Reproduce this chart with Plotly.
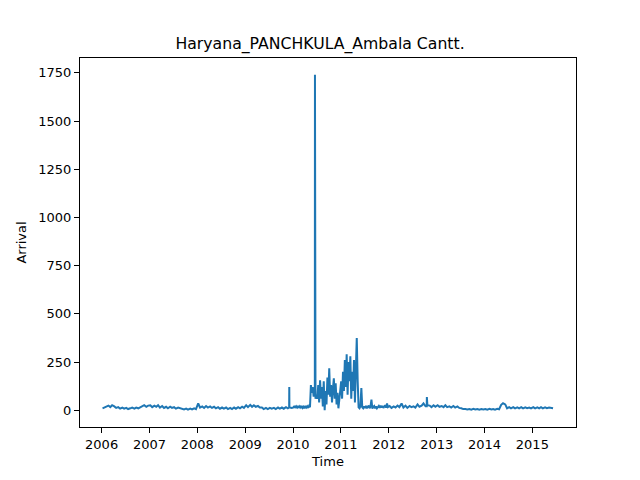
import plotly.graph_objects as go
import pandas as pd

# semimonthly readings (8th and 22nd of each month)
v2006 = [10, 14, 18, 24, 16, 26, 20, 12, 16, 8, 14, 8, 12, 6, 10, 14, 8, 14, 10, 16, 20, 26, 18, 24]
v2007 = [26, 16, 24, 18, 26, 14, 22, 12, 18, 10, 18, 12, 16, 8, 14, 10, 8, 4, 8, 3, 8, 4, 10, 6]
v2008 = [35, 14, 20, 12, 22, 14, 20, 12, 18, 10, 16, 8, 14, 8, 14, 6, 12, 6, 14, 8, 16, 10, 18, 12]
v2009 = [26, 16, 28, 18, 26, 18, 22, 14, 14, 6, 12, 6, 12, 8, 12, 6, 14, 8, 14, 8, 16, 10, 14, 12]
# weekly readings 2010 and 2011
w2010 = [15, 22, 12, 20, 14, 22, 12, 20, 14, 22, 12, 18, 10, 22, 14, 20, 12, 22, 16,
         130, 90, 120, 70, 110, 60, 80, 60, 130, 40, 155, 60, 120, 20, 150, 0, 100,
         30, 170, 80, 218, 70, 130, 40, 110, 165, 60, 140, 30, 90, 10, 70, 110]
w2011 = [150, 60, 200, 100, 260, 120, 290, 80, 250, 150, 280, 60, 200, 100, 260, 40,
         240, 375, 150, 15, 10, 20, 115, 15,
         10, 20, 12, 22, 10, 18, 24, 10, 20, 55, 8, 18, 22, 10, 20, 10, 18, 22, 12, 24,
         14, 22, 12, 20, 26, 14, 35, 16]
v2012 = [22, 12, 20, 14, 24, 16, 35, 14, 24, 12, 22, 16, 20, 14, 30, 18, 24, 35, 20, 26, 24, 16, 26, 18]
v2013 = [26, 18, 22, 16, 26, 16, 20, 14, 22, 14, 20, 12, 10, 6, 6, 4, 6, 3, 7, 4, 6, 3, 6, 4]
v2014 = [6, 3, 7, 4, 6, 3, 7, 5, 28, 36, 30, 10, 16, 10, 16, 10, 15, 10, 16, 10, 15, 11, 14, 10]
v2015 = [16, 10, 15, 10, 16, 10, 15, 11, 14, 12, 10]
# short single-day peaks
peak_dates = ["2009-12-02", "2009-12-03", "2009-12-04",
              "2010-06-16", "2010-06-17", "2010-06-18",
              "2012-10-17", "2012-10-18", "2012-10-19"]
peak_vals = [14, 120, 15, 90, 1740, 80, 20, 68, 22]

y_ticks = [0, 250, 500, 750, 1000, 1250, 1500, 1750]
x_ticks = [str(y) for y in range(2006, 2016)]


def semimonthly(year, vals):
    dates = []
    for m in range(1, 13):
        for d in (8, 22):
            dates.append(pd.Timestamp(year, m, d))
    return dates[:len(vals)]


pts = []
for yr, vals in [(2006, v2006), (2007, v2007), (2008, v2008), (2009, v2009),
                 (2012, v2012), (2013, v2013), (2014, v2014), (2015, v2015)]:
    pts += list(zip(semimonthly(yr, vals), vals))
pts += list(zip(pd.date_range("2010-01-04", periods=len(w2010), freq="7D"), w2010))
pts += list(zip(pd.date_range("2011-01-03", periods=len(w2011), freq="7D"), w2011))
pts += list(zip(pd.to_datetime(peak_dates), peak_vals))
pts.sort(key=lambda p: p[0])
xs = [p[0] for p in pts]
ys = [p[1] for p in pts]

fig = go.Figure(go.Scatter(x=xs, y=ys, mode="lines",
                           line=dict(color="#1f77b4", width=2)))

axis_common = dict(showline=True, linecolor="black", linewidth=1, mirror=True,
                   ticks="outside", ticklen=5, tickcolor="black", showgrid=False,
                   zeroline=False, tickfont=dict(size=13, color="black"))

fig.update_layout(
    width=640, height=480,
    margin=dict(l=72, r=72, t=50, b=61),
    paper_bgcolor="white", plot_bgcolor="white",
    font=dict(family="DejaVu Sans", color="black"),
    showlegend=False,
    title=dict(text="Haryana_PANCHKULA_Ambala Cantt.", x=0.484, xref="paper", xanchor="center",
               y=1 - 36 / 480, yanchor="middle", yref="container",
               font=dict(size=15.7, color="black")),
)
fig.update_xaxes(**axis_common, range=["2005-07-20", "2015-11-30"],
                 tickvals=[pd.Timestamp(int(t), 1, 1) for t in x_ticks], ticktext=x_ticks,
                 title=dict(text="Time", font=dict(size=13), standoff=6))
fig.update_yaxes(**axis_common, range=[-87, 1827], tickvals=y_ticks,
                 title=dict(text="Arrival", font=dict(size=13), standoff=8))

fig.write_html("out.html")
